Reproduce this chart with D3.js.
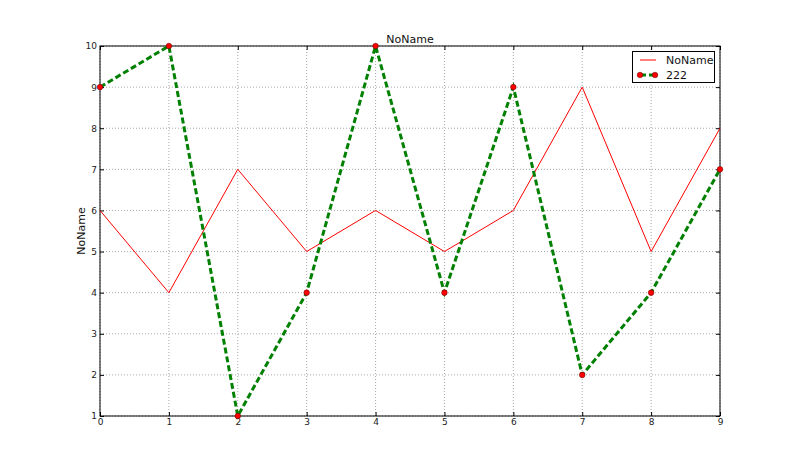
<!DOCTYPE html>
<html><head><meta charset="utf-8">
<script src="https://cdn.jsdelivr.net/npm/d3@7"></script>
<style>body{margin:0;background:#fff}svg{display:block}text{font-family:"DejaVu Sans",sans-serif}</style>
</head><body>
<svg id="c" width="800" height="463"></svg>
<script>
const xCats = [0,1,2,3,4,5,6,7,8,9];
const seriesNoName = [6,4,7,5,6,5,6,9,5,8];
const series222 = [9,10,1,4,10,4,9,2,4,7];
const yTicks = [1,2,3,4,5,6,7,8,9,10];
const title = "NoName";
const yLabel = "NoName";
const legendNames = ["NoName","222"];

const svg = d3.select("#c");
const L=100,R=720,T=46,B=416;
const x = d3.scaleLinear().domain([0,9]).range([L,R]);
const y = d3.scaleLinear().domain([1,10]).range([B,T]);

// grid
const g = svg.append("g");
g.selectAll("line.gx").data(xCats).enter().append("line")
 .attr("x1",d=>x(d)).attr("x2",d=>x(d)).attr("y1",T).attr("y2",B)
 .attr("stroke","#a8a8a8").attr("stroke-width",1).attr("stroke-dasharray","1,2");
g.selectAll("line.gy").data(yTicks).enter().append("line")
 .attr("y1",d=>y(d)).attr("y2",d=>y(d)).attr("x1",L).attr("x2",R)
 .attr("stroke","#a8a8a8").attr("stroke-width",1).attr("stroke-dasharray","1,2");

// axes
const xb = svg.append("g").attr("transform",`translate(0,${B})`)
 .call(d3.axisBottom(x).tickValues(xCats).tickSize(-4).tickPadding(3).tickFormat(d3.format("d")));
const xt = svg.append("g").attr("transform",`translate(0,${T})`)
 .call(d3.axisTop(x).tickValues(xCats).tickSize(-4).tickFormat(""));
const yl = svg.append("g").attr("transform",`translate(${L},0)`)
 .call(d3.axisLeft(y).tickValues(yTicks).tickSize(-4).tickPadding(3).tickFormat(d3.format("d")));
const yr = svg.append("g").attr("transform",`translate(${R},0)`)
 .call(d3.axisRight(y).tickValues(yTicks).tickSize(-4).tickFormat(""));
[xb,xt,yl,yr].forEach(a=>{
  a.select(".domain").remove();
  a.selectAll(".tick line").attr("stroke","#000");
  a.selectAll(".tick text").attr("font-size",9).attr("fill","#222").attr("font-family","DejaVu Sans");
});
svg.append("rect").attr("x",L).attr("y",T).attr("width",R-L).attr("height",B-T)
 .attr("fill","none").attr("stroke","#000").attr("stroke-width",1);

// red line
const line = d3.line().x((d,i)=>x(xCats[i])).y(d=>y(d));
svg.append("path").datum(seriesNoName).attr("d",line).attr("fill","none")
 .attr("stroke","#ff0000").attr("stroke-width",1);
// green dashed
svg.append("path").datum(series222).attr("d",line).attr("fill","none")
 .attr("stroke","#008000").attr("stroke-width",3).attr("stroke-dasharray","6,3");
svg.selectAll("circle.m").data(series222).enter().append("circle")
 .attr("cx",(d,i)=>x(xCats[i])).attr("cy",d=>y(d)).attr("r",2.8)
 .attr("fill","#ff0000").attr("stroke","#550000").attr("stroke-width",0.5);

// title & labels
svg.append("text").attr("x",(L+R)/2).attr("y",43).attr("text-anchor","middle")
 .attr("font-size",11).attr("fill","#111").text(title);
svg.append("text").attr("transform",`translate(85,${(T+B)/2}) rotate(-90)`)
 .attr("text-anchor","middle").attr("font-size",11).attr("fill","#111").text(yLabel);

// legend
const lg = svg.append("g");
lg.append("rect").attr("x",632.5).attr("y",51.5).attr("width",82).attr("height",31)
 .attr("fill","#fff").attr("stroke","#000").attr("stroke-width",1);
lg.append("line").attr("x1",640).attr("x2",656).attr("y1",60).attr("y2",60)
 .attr("stroke","#ff0000").attr("stroke-width",1);
lg.append("line").attr("x1",640).attr("x2",656).attr("y1",75).attr("y2",75)
 .attr("stroke","#008000").attr("stroke-width",3).attr("stroke-dasharray","4,3").attr("stroke-dashoffset",-2);
[640,655].forEach(cx=>lg.append("circle").attr("cx",cx).attr("cy",75).attr("r",2.8)
 .attr("fill","#ff0000").attr("stroke","#550000").attr("stroke-width",0.5));
lg.selectAll("text.lt").data(legendNames).enter().append("text")
 .attr("x",666).attr("y",(d,i)=>60+i*15+4).attr("font-size",11).attr("fill","#111").text(d=>d);
</script>
</body></html>
